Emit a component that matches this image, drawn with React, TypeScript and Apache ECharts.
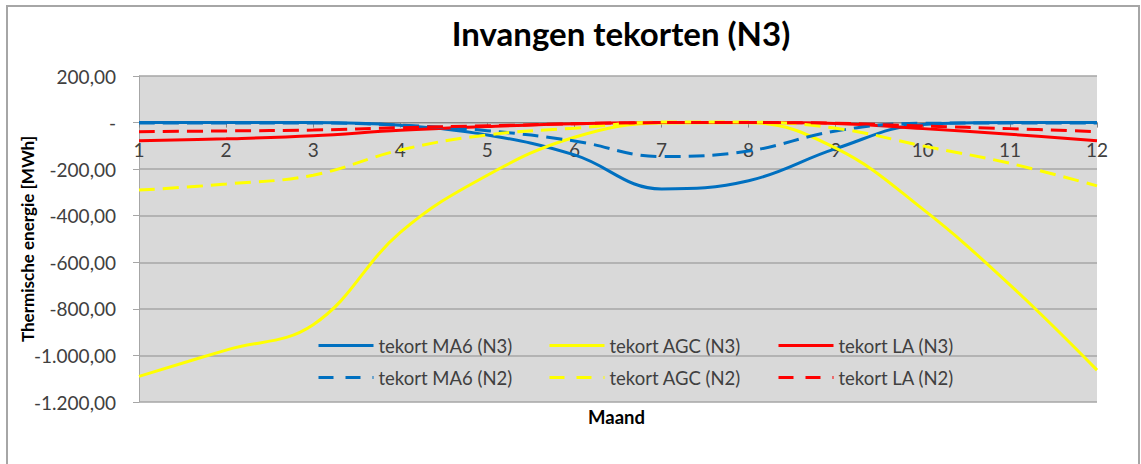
import React, { useEffect, useRef } from "react";
import * as echarts from "echarts";

const months = ["1", "2", "3", "4", "5", "6", "7", "8", "9", "10", "11", "12"];
const ma6N3 = [0, 0, 0, -12, -53, -139, -285, -250, -112, -8, 0, 0];
const agcN3 = [-1090, -977, -868, -472, -226, -63, -2, -1, -110, -372, -697, -1063];
const laN3 = [-78, -70, -57, -33, -17, -5, 0, 0, -4, -26, -50, -78];
const ma6N2 = [-2, -2, -2, -11, -35, -79, -146, -122, -36, -3, -2, -2];
const agcN2 = [-290, -264, -226, -118, -53, -24, 2, 2, -24, -100, -175, -272];
const laN2 = [-39, -36, -32, -22, -14, -5, 0, 0, -3, -15, -26, -39];

const seriesNames = [
  "tekort MA6 (N3)",
  "tekort AGC (N3)",
  "tekort LA (N3)",
  "tekort MA6 (N2)",
  "tekort AGC (N2)",
  "tekort LA (N2)",
];
const seriesData = [ma6N3, agcN3, laN3, ma6N2, agcN2, laN2];
const seriesColors = ["#0070C0", "#FFFF00", "#FF0000", "#0070C0", "#FFFF00", "#FF0000"];
const seriesDashed = [false, false, false, true, true, true];

function fmt(v: number): string {
  if (v === 0) return "-";
  const neg = v < 0;
  const a = Math.abs(v);
  const intPart = Math.floor(a).toString().replace(/\B(?=(\d{3})+(?!\d))/g, ".");
  return (neg ? "-" : "") + intPart + ",00";
}

export default function App() {
  const ref = useRef<HTMLDivElement>(null);
  useEffect(() => {
    if (!ref.current) return;
    const chart = echarts.init(ref.current, undefined, { renderer: "svg" });
    const font = "Lato, 'Open Sans', sans-serif";
    const legendLefts = [317, 548, 777];
    const legendTops = [336, 368];
    const legends = seriesNames.map((n, i) => ({
      show: true,
      orient: "horizontal",
      data: [n],
      left: legendLefts[i % 3],
      top: legendTops[Math.floor(i / 3)],
      itemWidth: 55,
      itemHeight: 14,
      padding: 0,
      itemStyle: { opacity: 0 },
      lineStyle: seriesDashed[i] ? { type: [15, 12], width: 3 } : { width: 3 },
      textStyle: { fontFamily: font, fontSize: 18.5, color: "#404040" },
    }));
    chart.setOption({
      animation: false,
      backgroundColor: "#ffffff",
      title: {
        text: "Invangen tekorten (N3)",
        left: 616,
        textAlign: "center",
        top: 11,
        textStyle: { fontFamily: font, fontSize: 33, fontWeight: "bold", color: "#000000" },
      },
      legend: legends,
      grid: {
        left: 139,
        right: 44,
        top: 76,
        bottom: 62,
        show: true,
        backgroundColor: "#d9d9d9",
        borderWidth: 0,
      },
      graphic: [
        {
          type: "rect",
          shape: { x: 7, y: 6, width: 1132, height: 470 },
          style: { fill: "none", stroke: "#a6a6a6", lineWidth: 2 },
          silent: true,
        },
        {
          type: "text",
          left: 588,
          top: 407,
          style: {
            text: "Maand",
            fontFamily: font,
            fontSize: 18.5,
            fontWeight: "bold",
            fill: "#000000",
          },
        },
      ],
      xAxis: {
        type: "category",
        data: months,
        boundaryGap: false,
        offset: -279.4,
        axisLine: { onZero: false, lineStyle: { color: "#868686", width: 1 } },
        axisTick: { show: true, inside: false, length: 5, lineStyle: { color: "#868686" } },
        axisLabel: { fontFamily: font, fontSize: 19, color: "#404040", margin: 17 },
        splitLine: { show: false },
      },
      yAxis: {
        type: "value",
        min: -1200,
        max: 200,
        interval: 200,
        name: "Thermische energie [MWh]",
        nameLocation: "middle",
        nameGap: 103,
        nameMoveOverlap: false,
        nameTextStyle: { fontFamily: font, fontSize: 17, fontWeight: "bold", color: "#000000" },
        axisLine: { show: true, lineStyle: { color: "#a6a6a6", width: 1 } },
        axisTick: { show: true, length: 6, lineStyle: { color: "#a6a6a6" } },
        axisLabel: {
          fontFamily: font,
          fontSize: 19,
          color: "#404040",
          margin: 23,
          formatter: (v: number) => fmt(v),
        },
        splitLine: { show: true, lineStyle: { color: "#a6a6a6", width: 1.5 } },
      },
      series: seriesNames.map((n, i) => ({
        name: n,
        type: "line",
        data: seriesData[i],
        smooth: 0.4,
        symbol: "none",
        z: seriesDashed[i] ? 3 : 2,
        lineStyle: {
          color: seriesColors[i],
          width: 3,
          type: seriesDashed[i] ? [16, 8] : "solid",
        },
        itemStyle: { color: seriesColors[i] },
      })),
    });
    return () => chart.dispose();
  }, []);
  return (
    <div
      ref={ref}
      style={{ position: "fixed", left: 0, top: 0, width: 1141, height: 464 }}
    />
  );
}
